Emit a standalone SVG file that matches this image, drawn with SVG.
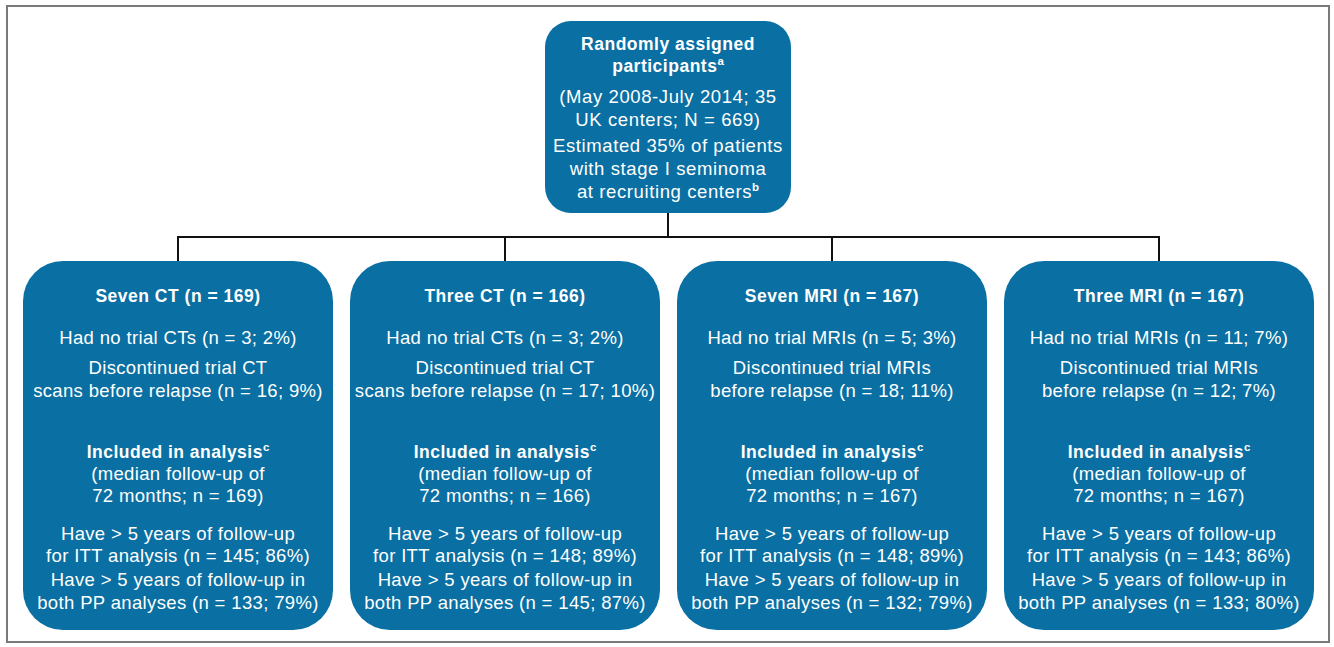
<svg xmlns="http://www.w3.org/2000/svg" width="1334" height="647" viewBox="0 0 1334 647">
<style>
.box{fill:#0a6fa2;}
.t{font-family:"Liberation Sans",Arial,sans-serif;font-size:18.5px;fill:#ffffff;text-anchor:middle;letter-spacing:0.35px;}
.b{font-weight:bold;font-size:17.5px;letter-spacing:0.5px;}
.tp{letter-spacing:0.6px;}
.sup{font-size:11.5px;font-weight:bold;letter-spacing:0;}
.con{stroke:#111;stroke-width:2;fill:none;}
</style>
<rect x="0" y="0" width="1334" height="647" fill="#ffffff"/>
<rect x="7" y="6" width="1322" height="636" fill="none" stroke="#7a7a7a" stroke-width="2"/>
<g id="connectors">
<path class="con" d="M668 213 V237 M178 237 H1159 M178 236 V262 M505 236 V262 M832 236 V262 M1159 236 V262"/>
</g>
<g id="top">
<rect class="box" x="545" y="21" width="246" height="192" rx="26"/>
<text class="t b" x="668" y="50">Randomly assigned</text>
<text class="t b" x="668" y="72">participants<tspan class="sup" dy="-7">a</tspan></text>
<text class="t tp" x="668" y="103">(May 2008-July 2014; 35</text>
<text class="t tp" x="668" y="126">UK centers; N = 669)</text>
<text class="t tp" x="668" y="152">Estimated 35% of patients</text>
<text class="t tp" x="668" y="175">with stage I seminoma</text>
<text class="t tp" x="668" y="198">at recruiting centers<tspan class="sup" dy="-7">b</tspan></text>
</g>
<g id="sevenCT">
<rect class="box" x="23" y="261" width="310" height="369" rx="40"/>
<text class="t b" x="178" y="302">Seven CT (n = 169)</text>
<text class="t" x="178" y="344">Had no trial CTs (n = 3; 2%)</text>
<text class="t" x="178" y="374">Discontinued trial CT</text>
<text class="t" x="178" y="397">scans before relapse (n = 16; 9%)</text>
<text class="t b" x="178" y="458">Included in analysis<tspan class="sup" dy="-7">c</tspan></text>
<text class="t" x="178" y="480">(median follow-up of</text>
<text class="t" x="178" y="502">72 months; n = 169)</text>
<text class="t" x="178" y="540">Have &gt; 5 years of follow-up</text>
<text class="t" x="178" y="562">for ITT analysis (n = 145; 86%)</text>
<text class="t" x="178" y="586">Have &gt; 5 years of follow-up in</text>
<text class="t" x="178" y="609">both PP analyses (n = 133; 79%)</text>
</g>
<g id="threeCT">
<rect class="box" x="350" y="261" width="310" height="369" rx="40"/>
<text class="t b" x="505" y="302">Three CT (n = 166)</text>
<text class="t" x="505" y="344">Had no trial CTs (n = 3; 2%)</text>
<text class="t" x="505" y="374">Discontinued trial CT</text>
<text class="t" x="505" y="397">scans before relapse (n = 17; 10%)</text>
<text class="t b" x="505" y="458">Included in analysis<tspan class="sup" dy="-7">c</tspan></text>
<text class="t" x="505" y="480">(median follow-up of</text>
<text class="t" x="505" y="502">72 months; n = 166)</text>
<text class="t" x="505" y="540">Have &gt; 5 years of follow-up</text>
<text class="t" x="505" y="562">for ITT analysis (n = 148; 89%)</text>
<text class="t" x="505" y="586">Have &gt; 5 years of follow-up in</text>
<text class="t" x="505" y="609">both PP analyses (n = 145; 87%)</text>
</g>
<g id="sevenMRI">
<rect class="box" x="677" y="261" width="310" height="369" rx="40"/>
<text class="t b" x="832" y="302">Seven MRI (n = 167)</text>
<text class="t" x="832" y="344">Had no trial MRIs (n = 5; 3%)</text>
<text class="t" x="832" y="374">Discontinued trial MRIs</text>
<text class="t" x="832" y="397">before relapse (n = 18; 11%)</text>
<text class="t b" x="832" y="458">Included in analysis<tspan class="sup" dy="-7">c</tspan></text>
<text class="t" x="832" y="480">(median follow-up of</text>
<text class="t" x="832" y="502">72 months; n = 167)</text>
<text class="t" x="832" y="540">Have &gt; 5 years of follow-up</text>
<text class="t" x="832" y="562">for ITT analysis (n = 148; 89%)</text>
<text class="t" x="832" y="586">Have &gt; 5 years of follow-up in</text>
<text class="t" x="832" y="609">both PP analyses (n = 132; 79%)</text>
</g>
<g id="threeMRI">
<rect class="box" x="1004" y="261" width="310" height="369" rx="40"/>
<text class="t b" x="1159" y="302">Three MRI (n = 167)</text>
<text class="t" x="1159" y="344">Had no trial MRIs (n = 11; 7%)</text>
<text class="t" x="1159" y="374">Discontinued trial MRIs</text>
<text class="t" x="1159" y="397">before relapse (n = 12; 7%)</text>
<text class="t b" x="1159" y="458">Included in analysis<tspan class="sup" dy="-7">c</tspan></text>
<text class="t" x="1159" y="480">(median follow-up of</text>
<text class="t" x="1159" y="502">72 months; n = 167)</text>
<text class="t" x="1159" y="540">Have &gt; 5 years of follow-up</text>
<text class="t" x="1159" y="562">for ITT analysis (n = 143; 86%)</text>
<text class="t" x="1159" y="586">Have &gt; 5 years of follow-up in</text>
<text class="t" x="1159" y="609">both PP analyses (n = 133; 80%)</text>
</g>
</svg>
